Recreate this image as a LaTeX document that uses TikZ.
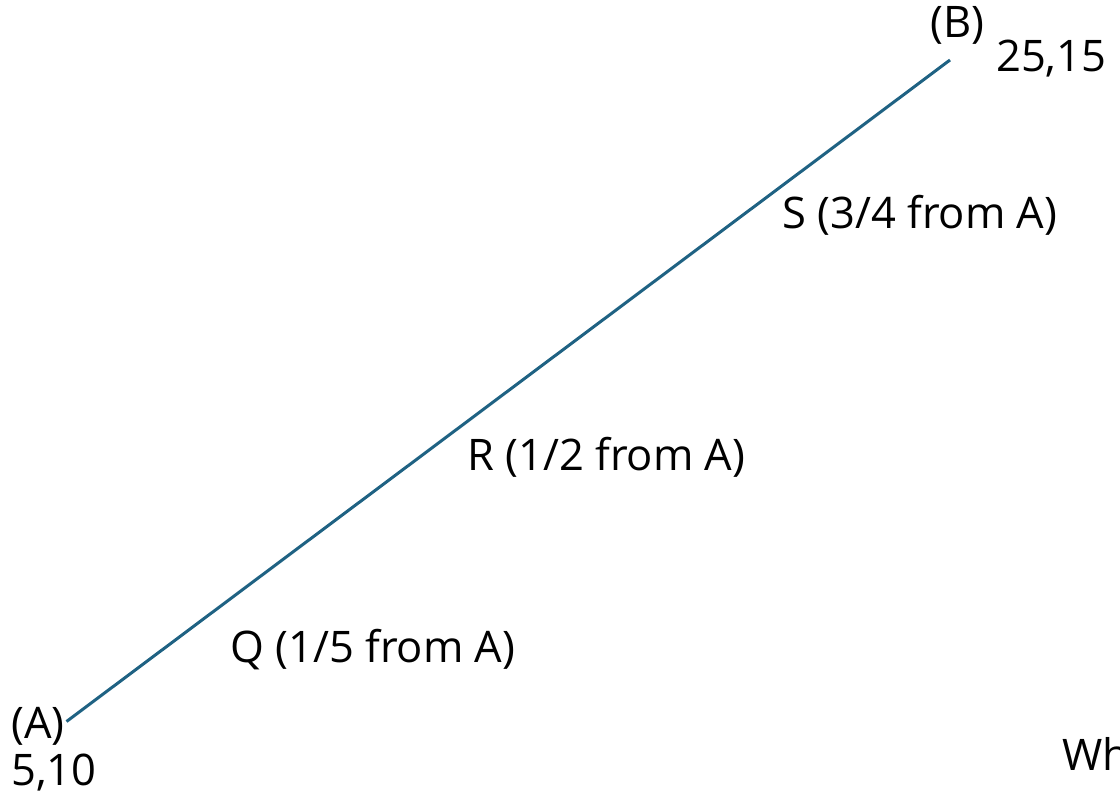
\documentclass[tikz,border=0pt]{standalone}
\usepackage{fontspec}
\setmainfont{Open Sans}
\definecolor{linecol}{HTML}{1F6283}
\begin{document}
\begin{tikzpicture}[x=1pt,y=-1pt,
  lbl/.style={inner sep=0pt, anchor=base west, font=\fontsize{43.5}{52}\selectfont, text=black},
  seg/.style={draw=linecol, line width=3pt}]
\useasboundingbox (0,0) rectangle (1120,794);
\coordinate (A) at (66.5,721.5);
\coordinate (B) at (950,60);
\draw[seg] (A) -- (B);
\node[lbl] (la) at (11,738) {(A)};
\node[lbl] (ca) at (11,785) {5,10};
\node[lbl] (lb) at (930,38) {(B)};
\node[lbl] (cb) at (996,72) {25,15};
\node[lbl] (ls) at (782,229) {S (3/4 from A)};
\node[lbl] (lr) at (467,471) {R (1/2 from A)};
\node[lbl] (lq) at (230,662) {Q (1/5 from A)};
\node[lbl] (wh) at (1062,770) {Wh};
\end{tikzpicture}
\end{document}
